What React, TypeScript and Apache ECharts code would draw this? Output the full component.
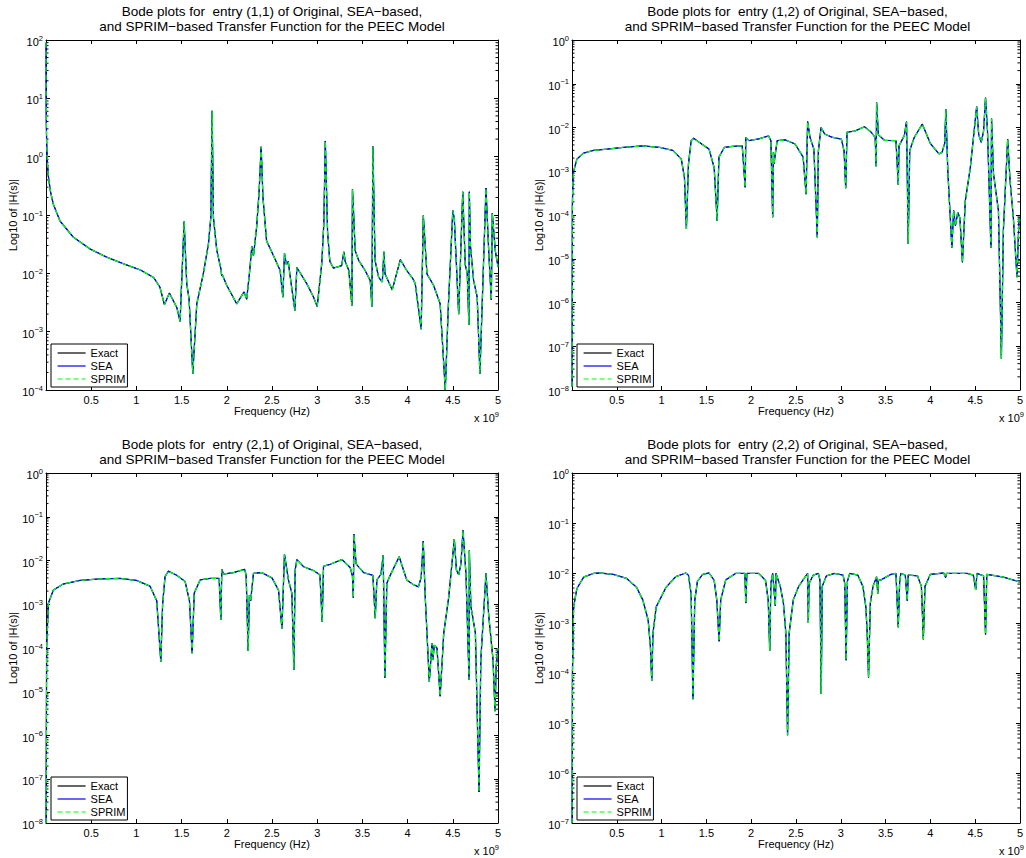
import React, { useEffect, useRef } from "react";
import * as echarts from "echarts";

// ---------- data (frequency in units of 1e9 Hz, magnitude |H(s)|) ----------
const freq11 = [0.0003,0.001,0.003,0.007,0.015,0.026,0.05,0.08,0.155,0.3,0.49,0.67,0.86,1.04,1.19,1.26,1.31,1.365,1.447,1.483,1.528,1.557,1.583,1.624,1.668,1.74,1.797,1.823,1.838,1.852,1.889,1.937,1.943,1.95,2.0,2.11,2.19,2.22,2.25,2.277,2.295,2.33,2.358,2.38,2.4,2.44,2.517,2.59,2.62,2.638,2.66,2.68,2.7,2.753,2.775,2.886,2.96,3.0,3.05,3.073,3.09,3.115,3.14,3.18,3.27,3.295,3.31,3.35,3.384,3.39,3.4,3.42,3.46,3.53,3.587,3.605,3.616,3.64,3.68,3.72,3.738,3.75,3.83,3.92,3.99,4.06,4.085,4.15,4.174,4.214,4.288,4.36,4.417,4.45,4.5,4.517,4.565,4.61,4.638,4.66,4.678,4.683,4.695,4.73,4.77,4.8,4.867,4.897,4.926,4.937,4.97,5.0];
const mag11 = [90,14,4.5,1.8,0.8,0.46,0.25,0.155,0.079,0.042,0.026,0.019,0.0145,0.0115,0.0085,0.0058,0.0029,0.0046,0.0026,0.0015,0.077,0.0066,0.0036,0.00019,0.003,0.0098,0.032,0.09,6.1,0.09,0.025,0.0115,0.009,0.0095,0.0062,0.003,0.0048,0.0036,0.0098,0.029,0.02,0.062,0.26,1.48,0.2,0.036,0.02,0.0112,0.0039,0.022,0.014,0.016,0.0091,0.0023,0.0126,0.0066,0.0039,0.0027,0.0145,0.07,1.86,0.05,0.016,0.0123,0.0135,0.0234,0.016,0.0112,0.0028,0.275,0.135,0.0245,0.0165,0.0112,0.0075,0.0027,1.5,0.0166,0.0085,0.0071,0.0234,0.0098,0.0052,0.0172,0.0112,0.008,0.0066,0.0011,0.098,0.0098,0.0062,0.003,0.0001,0.0026,0.12,0.085,0.002,0.25,0.014,0.01,0.0013,0.25,0.03,0.0076,0.0039,0.00019,0.29,0.0245,0.0035,0.107,0.0245,0.013];

const freq12 = [0.001,0.004,0.01,0.018,0.055,0.13,0.24,0.39,0.57,0.79,0.98,1.125,1.22,1.255,1.277,1.3,1.33,1.358,1.42,1.53,1.587,1.62,1.64,1.7,1.79,1.9,1.933,1.94,1.974,2.085,2.195,2.22,2.24,2.248,2.255,2.29,2.38,2.49,2.58,2.613,2.63,2.657,2.7,2.738,2.75,2.78,2.82,2.9,3.007,3.037,3.055,3.07,3.155,3.265,3.34,3.384,3.395,3.4,3.42,3.487,3.616,3.642,3.65,3.71,3.734,3.753,3.77,3.82,3.91,4.0,4.096,4.13,4.16,4.173,4.195,4.24,4.26,4.28,4.306,4.33,4.358,4.39,4.446,4.517,4.54,4.568,4.594,4.616,4.638,4.676,4.683,4.705,4.76,4.793,4.815,4.863,4.89,4.926,4.967,4.99,5.0];
const mag12 = [1.2e-8,1.5e-4,6e-4,0.001,0.0019,0.0026,0.003,0.0032,0.0035,0.0038,0.0035,0.003,0.0019,0.00072,4.8e-5,0.00145,0.005,0.0057,0.0046,0.0032,0.0012,7.4e-5,0.0021,0.0035,0.0037,0.0038,0.00043,0.0059,0.005,0.0055,0.0064,0.005,8.9e-5,0.0027,0.0015,0.005,0.0052,0.0042,0.0021,0.0003,0.0137,0.0059,0.0032,3.1e-5,0.0029,0.01,0.0071,0.006,0.0054,0.0029,0.00041,0.0078,0.0083,0.0104,0.0078,0.0059,0.0013,0.037,0.0068,0.0051,0.005,0.00049,0.0038,0.0066,0.0137,2.2e-5,0.003,0.0059,0.012,0.0043,0.0025,0.0027,0.0043,0.026,0.001,1.8e-5,1.26e-4,5.7e-5,1.15e-4,8.5e-5,8.3e-6,2.1e-4,0.0012,0.03,0.0068,0.0046,0.0083,0.048,0.0083,1.8e-5,0.016,8.7e-4,1.26e-4,5.2e-8,4.4e-5,0.0054,6e-4,8.9e-5,3.8e-6,8.9e-5,7.4e-5];

const freq21 = [0.001,0.007,0.026,0.081,0.19,0.376,0.6,0.82,1.0,1.15,1.225,1.27,1.29,1.317,1.354,1.446,1.539,1.587,1.616,1.64,1.705,1.815,1.915,1.934,1.945,1.963,2.074,2.196,2.214,2.236,2.25,2.264,2.295,2.387,2.5,2.572,2.61,2.638,2.683,2.72,2.742,2.756,2.775,2.85,2.96,3.03,3.055,3.07,3.144,3.273,3.365,3.39,3.4,3.406,3.43,3.513,3.616,3.642,3.66,3.705,3.73,3.749,3.77,3.81,3.907,3.99,4.066,4.12,4.15,4.173,4.195,4.24,4.27,4.28,4.295,4.325,4.36,4.4,4.454,4.517,4.54,4.565,4.59,4.613,4.646,4.68,4.683,4.7,4.75,4.79,4.81,4.867,4.897,4.945,4.967,4.98,5.0];
const mag21 = [1e-8,1.07e-4,0.00105,0.0021,0.0029,0.0035,0.0038,0.0039,0.0035,0.0026,0.0012,4.9e-5,0.001,0.0043,0.0057,0.0046,0.0033,0.0012,7.6e-5,0.0018,0.0036,0.0039,0.0039,0.00044,0.0063,0.0049,0.0053,0.0063,0.0047,8.6e-5,0.0016,0.0012,0.0051,0.0053,0.004,0.0021,0.00028,0.0138,0.0035,0.0018,3.2e-5,0.006,0.0105,0.0072,0.0059,0.0047,0.0004,0.0074,0.0082,0.0105,0.0069,0.0044,0.0014,0.04,0.0084,0.0053,0.0046,0.00048,0.0036,0.0048,0.0132,2.1e-5,0.003,0.0047,0.0122,0.0036,0.0028,0.0025,0.0041,0.0277,0.0015,1.7e-5,1.3e-4,5.3e-5,1.16e-4,1e-4,7.9e-6,2.2e-4,0.0014,0.031,0.0061,0.0047,0.0084,0.049,0.0048,1.9e-5,0.017,9e-4,2.2e-4,5.1e-8,5.4e-5,0.0051,5.6e-4,5.4e-5,3.6e-6,3.8e-5,1e-4];

const freq22 = [0.001,0.005,0.018,0.055,0.13,0.24,0.31,0.46,0.61,0.72,0.79,0.85,0.875,0.89,0.904,0.94,1.05,1.16,1.27,1.3,1.33,1.35,1.37,1.4,1.458,1.53,1.587,1.616,1.642,1.66,1.716,1.826,1.93,1.94,1.952,2.085,2.16,2.19,2.207,2.22,2.24,2.27,2.277,2.325,2.36,2.387,2.406,2.424,2.47,2.53,2.6,2.63,2.638,2.646,2.694,2.75,2.767,2.782,2.793,2.84,2.93,3.026,3.044,3.06,3.074,3.1,3.19,3.247,3.28,3.295,3.31,3.33,3.36,3.4,3.413,3.42,3.45,3.56,3.616,3.642,3.657,3.67,3.72,3.742,3.753,3.856,3.9,3.922,3.94,4.0,4.15,4.17,4.18,4.41,4.48,4.506,4.52,4.594,4.616,4.63,4.815,5.0];
const mag22 = [1e-7,1e-4,0.0021,0.0049,0.0083,0.0098,0.01,0.0094,0.0078,0.0052,0.0029,0.00115,3.4e-4,6.9e-5,6.3e-4,0.0021,0.0052,0.0085,0.01,0.009,0.0038,3e-5,0.0028,0.0068,0.0094,0.01,0.0071,0.0029,4.3e-4,0.0029,0.0073,0.0098,0.0098,0.0025,0.0098,0.0098,0.0071,0.0029,2.8e-4,0.0063,0.0098,0.0022,0.0098,0.0054,0.0025,6.3e-4,5.7e-6,6.3e-4,0.0029,0.0054,0.0083,0.0098,0.001,0.0062,0.0091,0.0098,0.0073,3.8e-5,0.0054,0.0088,0.0098,0.0091,0.0062,1.8e-4,0.0068,0.0098,0.0091,0.0054,0.0021,6.3e-4,8.1e-5,0.0025,0.0054,0.0084,0.0039,0.0071,0.0073,0.0094,0.0098,8.2e-4,0.0064,0.0098,0.0091,0.0028,0.0091,0.0088,0.0054,4.7e-4,0.0054,0.0094,0.01,0.0081,0.0098,0.0098,0.0091,0.0046,0.0098,0.0088,5.9e-4,0.0094,0.0083,0.0066];

const entries = ["(1,1)", "(1,2)", "(2,1)", "(2,2)"];
const yMins = [1e-4, 1e-8, 1e-8, 1e-7];
const yMaxs = [1e2, 1, 1, 1];
const freqs = [freq11, freq12, freq21, freq22];
const mags = [mag11, mag12, mag21, mag22];
const legendNames = ["Exact", "SEA", "SPRIM"];
const xLabel = "Frequency (Hz)";
const yLabel = "Log10 of |H(s)|";

// ---------- layout / style ----------
const FONT = '"Liberation Sans", Arial, Helvetica, sans-serif';
const FS = 11;
const layout = [
  { left: 46, top: 40, width: 452, height: 350 },
  { left: 572, top: 40, width: 451, height: 350 },
  { left: 46, top: 473, width: 452, height: 350 },
  { left: 572, top: 473, width: 451, height: 350 },
];
const lineColors = ["#000000", "#0000ff", "#00ff00"];

function supLabel(v: number) {
  const e = Math.round(Math.log10(v));
  const s = e < 0 ? "\u2212" + -e : String(e);
  return "{b|10}{s|" + s + "}";
}

function buildOption() {
  const option: any = {
    animation: false,
    backgroundColor: "#ffffff",
    grid: [],
    xAxis: [],
    yAxis: [],
    series: [],
    legend: [],
    graphic: [],
  };
  const richLabel = {
    b: { fontSize: FS, fontFamily: FONT, color: "#000", lineHeight: 12, padding: [4, 0, 0, 0] },
    s: { fontSize: 7.5, fontFamily: FONT, color: "#000", lineHeight: 8, verticalAlign: "top" },
  };
  layout.forEach((g, i) => {
    option.grid.push({ left: g.left, top: g.top, width: g.width, height: g.height, show: false });
    const axisLine = { show: true, onZero: false, lineStyle: { color: "#000", width: 1 } };
    const tick = { show: true, inside: true, length: 4, lineStyle: { color: "#000", width: 1 } };
    option.xAxis.push({
      gridIndex: i, type: "value", position: "bottom", min: 0, max: 5, interval: 0.5,
      axisLine, axisTick: tick, splitLine: { show: false },
      axisLabel: {
        formatter: (v: number) => (v === 0 ? "" : String(v)),
        fontSize: FS, fontFamily: FONT, color: "#000", margin: 4,
      },
      name: xLabel, nameLocation: "middle", nameGap: 15,
      nameTextStyle: { fontSize: FS, fontFamily: FONT, color: "#000" },
    });
    option.xAxis.push({
      gridIndex: i, type: "value", position: "top", min: 0, max: 5, interval: 0.5,
      axisLine, axisTick: tick, splitLine: { show: false }, axisLabel: { show: false },
    });
    option.yAxis.push({
      gridIndex: i, type: "log", logBase: 10, position: "left", min: yMins[i], max: yMaxs[i],
      axisLine, axisTick: tick, splitLine: { show: false },
      axisLabel: { formatter: supLabel, rich: richLabel, margin: 3 },
      name: yLabel, nameLocation: "middle", nameGap: 28, nameRotate: 90,
      nameTextStyle: { fontSize: FS, fontFamily: FONT, color: "#000" },
    });
    option.yAxis.push({
      gridIndex: i, type: "log", logBase: 10, position: "right", min: yMins[i], max: yMaxs[i],
      axisLine, axisTick: tick, splitLine: { show: false }, axisLabel: { show: false },
    });
    const data = freqs[i].map((f, k) => [f, mags[i][k]]);
    legendNames.forEach((name, s) => {
      option.series.push({
        type: "line", name, xAxisIndex: 2 * i, yAxisIndex: 2 * i, data,
        symbol: "none", showSymbol: false, clip: true,
        lineStyle: { color: lineColors[s], width: s === 0 ? 1 : 1.3, type: s === 2 ? [5, 3] : "solid" },
        itemStyle: { color: lineColors[s] },
        emphasis: { disabled: true },
      });
    });
    // minor log ticks on left and right edges
    const minors: number[][] = [];
    const e0 = Math.round(Math.log10(yMins[i]));
    const e1 = Math.round(Math.log10(yMaxs[i]));
    for (let e = e0; e < e1; e++) for (let k = 2; k <= 9; k++) minors.push([0, k * Math.pow(10, e)]);
    option.series.push({
      type: "custom", xAxisIndex: 2 * i, yAxisIndex: 2 * i, silent: true, clip: false, z: 1,
      data: minors,
      renderItem: (params: any, api: any) => {
        const v = api.value(1);
        const p0 = api.coord([0, v]);
        const p1 = api.coord([5, v]);
        return {
          type: "group",
          children: [
            { type: "line", shape: { x1: p0[0], y1: p0[1], x2: p0[0] + 2.5, y2: p0[1] }, style: { stroke: "#000", lineWidth: 1 } },
            { type: "line", shape: { x1: p1[0] - 2.5, y1: p1[1], x2: p1[0], y2: p1[1] }, style: { stroke: "#000", lineWidth: 1 } },
          ],
        };
      },
    });
    option.legend.push({
      data: legendNames, orient: "vertical", left: g.left + 5, top: g.top + g.height - 46,
      backgroundColor: "#fff", borderColor: "#000", borderWidth: 1, borderRadius: 0,
      padding: [3, 2, 2, 6], itemWidth: 28, itemHeight: 8, itemGap: 1, selectedMode: false,
      itemStyle: { opacity: 0, borderWidth: 0 },
      lineStyle: { width: 1.2 },
      textStyle: { fontSize: FS, fontFamily: FONT, color: "#000", lineHeight: 12 },
    });
    option.graphic.push({
      type: "text", x: g.left + g.width / 2, y: g.top - 21, silent: true,
      style: {
        text: "Bode plots for  entry " + entries[i] + " of Original, SEA\u2212based,\nand SPRIM\u2212based Transfer Function for the PEEC Model",
        textAlign: "center", textVerticalAlign: "middle", fontSize: 13.5, fontFamily: FONT, fill: "#000", lineHeight: 15,
      },
    });
    option.graphic.push({
      type: "text", x: g.left + g.width + 1, y: g.top + g.height + 26, silent: true,
      style: {
        text: "{a|x 10}{s|9}", textAlign: "right", textVerticalAlign: "middle",
        rich: {
          a: { fontSize: FS, fontFamily: FONT, fill: "#000", color: "#000", lineHeight: 12, padding: [4, 0, 0, 0] },
          s: { fontSize: 7.5, fontFamily: FONT, fill: "#000", color: "#000", lineHeight: 8, verticalAlign: "top" },
        },
      },
    });
  });
  return option;
}

export default function App() {
  const ref = useRef<HTMLDivElement>(null);
  useEffect(() => {
    document.body.style.margin = "0";
    if (!ref.current) return;
    const chart = echarts.init(ref.current, undefined, { renderer: "svg" });
    chart.setOption(buildOption());
    return () => chart.dispose();
  }, []);
  return <div ref={ref} style={{ width: 1026, height: 858, background: "#fff" }} />;
}
